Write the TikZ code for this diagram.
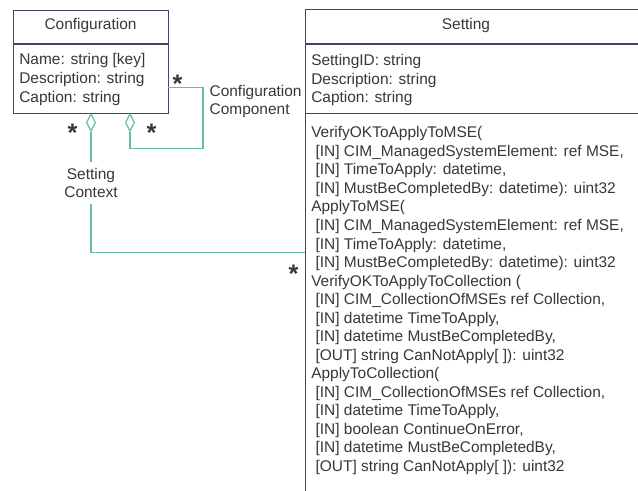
\documentclass[tikz,border=0pt]{standalone}
\usepackage{fontspec}
\setmainfont{Liberation Sans}
\usetikzlibrary{shapes.geometric}
\definecolor{txtc}{HTML}{383838}
\definecolor{boxc}{HTML}{4A4060}
\definecolor{assocc}{RGB}{100,190,160}
\begin{document}
\begin{tikzpicture}[x=0.75pt,y=-0.75pt,
  lbl/.style={font=\fontsize{11.6pt}{13.9pt}\selectfont, text=txtc, inner sep=0pt},
  classbox/.style={draw=boxc, line width=1pt, anchor=north west, inner sep=0pt, fill=white},
  boxline/.style={draw=boxc, line width=1pt},
  assoc/.style={draw=assocc, line width=0.8pt},
  dia/.style={diamond, draw=assocc, line width=0.8pt, fill=white, inner sep=0pt,
    minimum width=6.75pt, minimum height=12.75pt},
  mult/.style={font=\fontsize{19pt}{19pt}\selectfont\bfseries, text=txtc, inner sep=0pt, anchor=base},
  rolelbl/.style={lbl, fill=white, inner xsep=1pt}
]
\useasboundingbox (0,0) rectangle (638,491);
\fill[white] (0,0) rectangle (638,491);
\clip (0,0) rectangle (638,491);

% Configuration class
\node[classbox, minimum width=116.25pt, minimum height=77.25pt] (conf) at (13,10) {};
\draw[boxline] (conf.west |- 0,44) -- (conf.east |- 0,44);
\node[lbl, anchor=base] (conftitle) at (90.5,29.5) {Configuration};
\node[lbl, anchor=base west] (ca1) at (19,64.8) {Name: string [key]};
\node[lbl, anchor=base west] (ca2) at (19,83.5) {Description: string};
\node[lbl, anchor=base west] (ca3) at (19,102.1) {Caption: string};

% Setting class
\node[classbox, minimum width=300pt, minimum height=390pt] (setting) at (305,9) {};
\draw[boxline] (setting.west |- 0,44) -- (setting.east |- 0,44);
\draw[boxline] (setting.west |- 0,113.3) -- (setting.east |- 0,113.3);
\node[lbl, anchor=base] (settitle) at (466,29.8) {Setting};
\node[lbl, anchor=base west] (sa1) at (311,65.5) {SettingID: string};
\node[lbl, anchor=base west] (sa2) at (311,84.1) {Description: string};
\node[lbl, anchor=base west] (sa3) at (311,102.2) {Caption: string};
\foreach \t [count=\i] in {
  {VerifyOKToApplyToMSE(},
  {\ [IN] CIM\_ManagedSystemElement: ref MSE,},
  {\ [IN] TimeToApply: datetime,},
  {\ [IN] MustBeCompletedBy: datetime): uint32},
  {ApplyToMSE(},
  {\ [IN] CIM\_ManagedSystemElement: ref MSE,},
  {\ [IN] TimeToApply: datetime,},
  {\ [IN] MustBeCompletedBy: datetime): uint32},
  {VerifyOKToApplyToCollection (},
  {\ [IN] CIM\_CollectionOfMSEs ref Collection,},
  {\ [IN] datetime TimeToApply,},
  {\ [IN] datetime MustBeCompletedBy,},
  {\ [OUT] string CanNotApply[ ]): uint32},
  {ApplyToCollection(},
  {\ [IN] CIM\_CollectionOfMSEs ref Collection,},
  {\ [IN] datetime TimeToApply,},
  {\ [IN] boolean ContinueOnError,},
  {\ [IN] datetime MustBeCompletedBy,},
  {\ [OUT] string CanNotApply[ ]): uint32}}
  \node[lbl, anchor=base west] (op\i) at (311,{137.8+18.54*(\i-1)}) {\t};

% associations
\coordinate (sctxend) at (305,252.5);
\coordinate (ccstart) at (168,87.5);
\node[dia] (d1) at (91,122.5) {};
\node[dia] (d2) at (130,122.5) {};
\draw[assoc] (d1.south) |- (sctxend);
\draw[assoc] (ccstart) -| (203,148.3) -| (d2.south);
\node[dia] at (d1) {};
\node[dia] at (d2) {};

\node[rolelbl, align=center, minimum height=31.5pt] (sctx) at (91,183) {Setting\\Context};
\node[rolelbl, align=left, anchor=west] (ccomp) at (208,101.5) {Configuration\\Component};

% multiplicities
\node[mult] (m1) at (72.5,142) {*};
\node[mult] (m2) at (151.5,141.5) {*};
\node[mult] (m3) at (177.5,93) {*};
\node[mult] (m4) at (293.5,282) {*};
\end{tikzpicture}
\end{document}
